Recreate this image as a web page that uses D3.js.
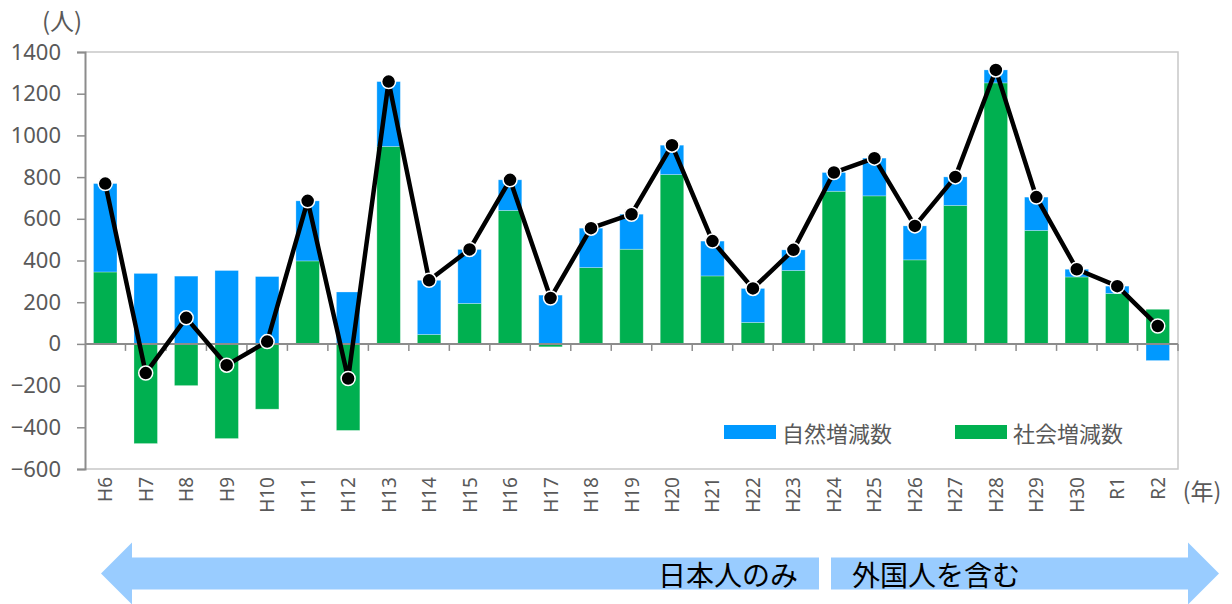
<!DOCTYPE html>
<meta charset="utf-8">
<head>
<script src="https://d3js.org/d3.v7.min.js"></script>
<style>
body { margin: 0; background: #fff; }
text { font-family: "Noto Sans", "Noto Sans CJK JP", sans-serif; }
.jp { font-family: "Noto Sans CJK JP", sans-serif; }
</style>
</head>
<body>
<div id="chart"></div>
<script>
// years (Heisei / Reiwa)
var categories = ["H6","H7","H8","H9","H10","H11","H12","H13","H14","H15","H16","H17","H18","H19",
                  "H20","H21","H22","H23","H24","H25","H26","H27","H28","H29","H30","R1","R2"];
// 自然増減数
var natural = [424, 338, 325, 352, 323, 288, 249, 311, 260, 259, 147, 234, 189, 168,
               141, 167, 163, 99, 90, 181, 163, 137, 62, 160, 37, 35, -80];
// 社会増減数
var social = [345, -478, -200, -454, -313, 398, -415, 947, 45, 194, 640, -14, 366, 454,
              812, 326, 103, 352, 732, 710, 403, 664, 1252, 544, 321, 242, 166];
// 人口増減 (line)
var total = [769, -140, 125, -102, 11, 686, -166, 1258, 305, 453, 787, 220, 555, 622,
             953, 493, 266, 451, 822, 891, 566, 801, 1314, 704, 358, 277, 86];
var yTicks = [-600, -400, -200, 0, 200, 400, 600, 800, 1000, 1200, 1400];

var W = 1232, H = 604;
var plotLeft = 85, plotRight = 1178, plotTop = 52, plotBottom = 469;

var svg = d3.select("#chart").append("svg")
  .attr("width", W).attr("height", H);

var x = d3.scaleBand()
  .domain(categories)
  .range([plotLeft, plotRight])
  .paddingInner(0.42)
  .paddingOuter(0.21);

var y = d3.scaleLinear()
  .domain([-600, 1400])
  .range([plotBottom, plotTop]);

// frame (light grey top / right / bottom)
svg.append("path")
  .attr("d", "M" + plotLeft + "," + plotTop + "H" + plotRight + "V" + plotBottom + "H" + plotLeft)
  .attr("fill", "none")
  .attr("stroke", "#c8c8c8")
  .attr("stroke-width", 1.5);

// stacked bars
var rows = categories.map(function(c, i) {
  return {cat: c, social: social[i], natural: natural[i]};
});
var stacked = d3.stack()
  .keys(["social", "natural"])
  .offset(d3.stackOffsetDiverging)(rows);

var color = {social: "#00B050", natural: "#0099FF"};

svg.selectAll("g.layer")
  .data(stacked)
  .enter().append("g")
    .attr("class", "layer")
    .attr("fill", function(d) { return color[d.key]; })
  .selectAll("rect")
  .data(function(d) { return d; })
  .enter().append("rect")
    .attr("x", function(d) { return x(d.data.cat); })
    .attr("width", x.bandwidth())
    .attr("y", function(d) { return y(Math.max(d[0], d[1])); })
    .attr("height", function(d) { return Math.abs(y(d[0]) - y(d[1])); })
    .attr("stroke", "#ffffff")
    .attr("stroke-opacity", 0.35)
    .attr("stroke-width", 0.8);

// y axis
var yAxis = svg.append("g")
  .attr("transform", "translate(" + plotLeft + ",0)")
  .call(d3.axisLeft(y).tickValues(yTicks).tickSize(8).tickPadding(16).tickFormat(d3.format("d")));
yAxis.select(".domain").attr("stroke", "#8c8c8c").attr("stroke-width", 2);
yAxis.selectAll(".tick line").attr("stroke", "#8c8c8c").attr("stroke-width", 1.5);
yAxis.selectAll(".tick text")
  .attr("fill", "#595959")
  .style("font-size", "22px")
  .style("font-family", "'Noto Sans', sans-serif");

// zero line with category ticks
var step = x.step();
var tickPos = categories.map(function(c) { return x(c) - x.paddingInner() * step / 2; });
tickPos.push(plotRight);
svg.append("line")
  .attr("x1", plotLeft).attr("x2", plotRight)
  .attr("y1", y(0)).attr("y2", y(0))
  .attr("stroke", "#8c8c8c").attr("stroke-width", 2);
svg.selectAll("line.ctick")
  .data(tickPos.slice(1))
  .enter().append("line")
    .attr("class", "ctick")
    .attr("x1", function(d) { return d; }).attr("x2", function(d) { return d; })
    .attr("y1", y(0)).attr("y2", y(0) + 7)
    .attr("stroke", "#8c8c8c").attr("stroke-width", 1.5);

// x labels (rotated)
svg.selectAll("text.xl")
  .data(categories)
  .enter().append("text")
    .attr("class", "xl")
    .attr("transform", function(d) {
      return "translate(" + (x(d) + x.bandwidth() / 2) + "," + (plotBottom + 8) + ") rotate(-90)";
    })
    .attr("text-anchor", "end")
    .attr("dominant-baseline", "central")
    .attr("fill", "#595959")
    .style("font-size", "19px")
    .text(function(d) { return d; });

// total line + markers
var line = d3.line()
  .x(function(d, i) { return x(categories[i]) + x.bandwidth() / 2; })
  .y(function(d) { return y(d); });
svg.append("path")
  .datum(total)
  .attr("d", line)
  .attr("fill", "none")
  .attr("stroke", "#000")
  .attr("stroke-width", 4.5)
  .attr("stroke-linejoin", "round");
svg.selectAll("circle.pt")
  .data(total)
  .enter().append("circle")
    .attr("class", "pt")
    .attr("cx", function(d, i) { return x(categories[i]) + x.bandwidth() / 2; })
    .attr("cy", function(d) { return y(d); })
    .attr("r", 7)
    .attr("fill", "#000")
    .attr("stroke", "#fff")
    .attr("stroke-width", 1.5);

// unit labels
svg.append("text")
  .attr("class", "jp")
  .attr("x", 62).attr("y", 19)
  .attr("text-anchor", "middle")
  .attr("dominant-baseline", "central")
  .attr("fill", "#595959")
  .style("font-size", "24px")
  .text("(人)");
svg.append("text")
  .attr("class", "jp")
  .attr("x", 1202).attr("y", 490)
  .attr("text-anchor", "middle")
  .attr("dominant-baseline", "central")
  .attr("fill", "#595959")
  .style("font-size", "23px")
  .text("(年)");

// legend
var legendItems = [
  {label: "自然増減数", key: "natural", x: 724},
  {label: "社会増減数", key: "social", x: 955}
];
var lg = svg.selectAll("g.legend")
  .data(legendItems)
  .enter().append("g")
    .attr("class", "legend")
    .attr("transform", function(d) { return "translate(" + d.x + ",425)"; });
lg.append("rect")
  .attr("width", 52).attr("height", 14)
  .attr("fill", function(d) { return color[d.key]; });
lg.append("text")
  .attr("class", "jp")
  .attr("x", 58).attr("y", 7)
  .attr("dominant-baseline", "central")
  .attr("fill", "#595959")
  .style("font-size", "22px")
  .text(function(d) { return d.label; });

// double arrow band at the bottom
var ay = 573.5, bodyH = 16, headH = 31;
var arrowFill = "#99CCFF";
svg.append("path")
  .attr("d", "M101," + ay + "L132," + (ay - headH) + "V" + (ay - bodyH) + "H819V" + (ay + bodyH) +
             "H132V" + (ay + headH) + "Z")
  .attr("fill", arrowFill);
svg.append("path")
  .attr("d", "M1219," + ay + "L1188," + (ay - headH) + "V" + (ay - bodyH) + "H831V" + (ay + bodyH) +
             "H1188V" + (ay + headH) + "Z")
  .attr("fill", arrowFill);
svg.append("text")
  .attr("class", "jp")
  .attr("x", 798).attr("y", ay)
  .attr("text-anchor", "end")
  .attr("dominant-baseline", "central")
  .attr("fill", "#000")
  .style("font-size", "28px")
  .text("日本人のみ");
svg.append("text")
  .attr("class", "jp")
  .attr("x", 852).attr("y", ay)
  .attr("dominant-baseline", "central")
  .attr("fill", "#000")
  .style("font-size", "28px")
  .text("外国人を含む");
</script>
</body>
</html>
